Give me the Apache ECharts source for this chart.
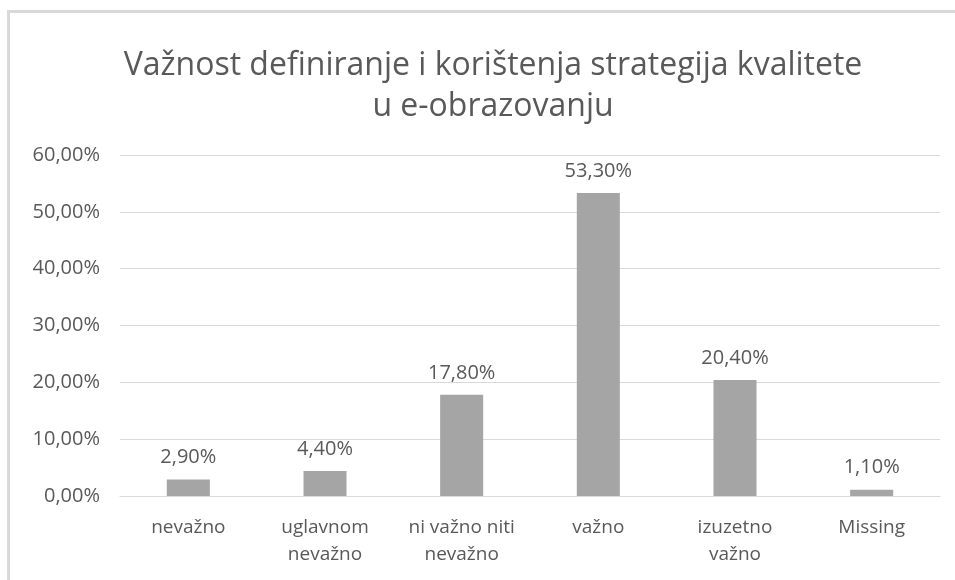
<!DOCTYPE html>
<html>
<head>
<meta charset="utf-8">
<script src="https://cdn.jsdelivr.net/npm/echarts@6/dist/echarts.min.js"></script>
<style>
  html, body { margin: 0; padding: 0; background: #fff; overflow: hidden; width: 955px; height: 580px; }
  #wrap { position: absolute; left: 7px; top: 10px; width: 970px; height: 600px; border: 3px solid #d9d9d9; box-sizing: border-box; }
  #chart { width: 955px; height: 580px; position: absolute; left: 0; top: 0; }
</style>
</head>
<body>
<div id="wrap"></div>
<div id="chart"></div>
<script>
// kategorije i vrijednosti (postotci)
const categories = ['nevažno', 'uglavnom\nnevažno', 'ni važno niti\nnevažno', 'važno', 'izuzetno\nvažno', 'Missing']
const values = [2.9, 4.4, 17.8, 53.3, 20.4, 1.1]
const titleText = 'Važnost definiranje i korištenja strategija kvalitete\nu e-obrazovanju'

const fmt = v => v.toFixed(2).replace('.', ',') + '%'

const chart = echarts.init(document.getElementById('chart'))
chart.setOption({
  animation: false,
  textStyle: { fontFamily: 'Open Sans' },
  title: {
    text: titleText,
    left: 488,
    top: 40,
    textAlign: 'center',
    textStyle: {
      fontFamily: 'Open Sans',
      fontWeight: 'normal',
      fontSize: 32,
      lineHeight: 41,
      color: '#595959'
    }
  },
  grid: {
    left: 120,
    right: 15,
    top: 155,
    bottom: 84
  },
  xAxis: {
    type: 'category',
    data: categories,
    axisLine: { lineStyle: { color: '#d9d9d9' } },
    axisTick: { show: false },
    axisLabel: {
      color: '#595959',
      fontSize: 19,
      lineHeight: 27,
      margin: 18,
      interval: 0
    }
  },
  yAxis: {
    type: 'value',
    min: 0,
    max: 60,
    interval: 10,
    axisLine: { show: false },
    axisTick: { show: false },
    splitLine: { lineStyle: { color: '#d9d9d9', width: 1 } },
    axisLabel: {
      color: '#595959',
      fontSize: 20,
      margin: 20,
      formatter: v => fmt(v)
    }
  },
  series: [
    {
      type: 'bar',
      data: values,
      barWidth: '31.5%',
      itemStyle: { color: '#a5a5a5' },
      label: {
        show: true,
        position: 'top',
        distance: 12,
        color: '#595959',
        fontSize: 20,
        formatter: p => fmt(p.value)
      }
    }
  ]
})
</script>
</body>
</html>
